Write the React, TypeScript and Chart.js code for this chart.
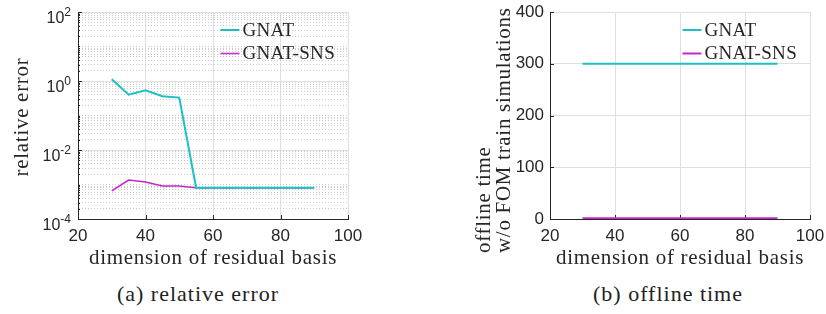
import React, { useEffect, useRef } from "react";
import { Chart, registerables } from "chart.js";

Chart.register(...registerables);

// ---------------- data ----------------
const residualDims = [30, 35, 40, 45, 50, 55, 60, 65, 70, 75, 80, 85, 90];
const gnatError = [1.12, 0.4, 0.54, 0.36, 0.33, 8.1e-4, 8.1e-4, 8.1e-4, 8.1e-4, 8.1e-4, 8.1e-4, 8.1e-4, 8.1e-4];
const snsError = [6.5e-4, 1.35e-3, 1.18e-3, 9.1e-4, 9.0e-4, 8.1e-4, 8.1e-4, 8.1e-4, 8.1e-4, 8.1e-4, 8.1e-4, 8.1e-4, 8.1e-4];
const gnatTime = [300, 300, 300, 300, 300, 300, 300, 300, 300, 300, 300, 300, 300];
const snsTime = [1.5, 1.5, 1.5, 1.5, 1.5, 1.5, 1.5, 1.5, 1.5, 1.5, 1.5, 1.5, 1.5];
const seriesNames = ["GNAT", "GNAT-SNS"];
const xTickValues = [20, 40, 60, 80, 100];
const errTickValues = [1e-4, 1e-2, 1, 1e2];
const errTickExponents = ["-4", "-2", "0", "2"];
const timeTickValues = [0, 100, 200, 300, 400];
const errYTitle = "relative error";
const timeYTitle = ["offline time", "w/o FOM train simulations"];
const xTitle = "dimension of residual basis";
const captions = ["(a) relative error", "(b) offline time"];

// ---------------- styles ----------------
const AXIS = "#262626";
const GRID = "#DFDFDF";
const MINOR = "#CDCDCD";
const CYAN = "#1CC0C2";
const MAGENTA = "#C824C8";
const SERIF = '"Liberation Serif", "Times New Roman", serif';
const SANS = '"Liberation Sans", Arial, sans-serif';

function isMajorErr(v: number) {
  return errTickValues.some((t) => Math.abs(Math.log10(t) - Math.log10(v)) < 1e-9);
}

function errGridValues() {
  const vals: number[] = [];
  for (let e = -4; e < 2; e++) {
    for (let m = 1; m < 10; m++) vals.push(m * Math.pow(10, e));
  }
  vals.push(100);
  return vals;
}

function rotText(ctx: CanvasRenderingContext2D, text: string, x: number, y: number, align: CanvasTextAlign) {
  ctx.save();
  ctx.translate(x, y);
  ctx.rotate(-Math.PI / 2);
  ctx.textAlign = align;
  ctx.textBaseline = "middle";
  ctx.fillText(text, 0, 0);
  ctx.restore();
}

function makeDecor(kind: "err" | "time") {
  return {
    id: "decor_" + kind,
    beforeDatasetsDraw(chart: any) {
      const { ctx, chartArea: a, scales } = chart;
      const x = scales.x;
      const y = scales.y;
      ctx.save();
      ctx.strokeStyle = AXIS;
      ctx.lineWidth = 1;
      ctx.beginPath();
      for (const v of xTickValues) {
        const px = Math.round(x.getPixelForValue(v)) + 0.5;
        ctx.moveTo(px, a.bottom);
        ctx.lineTo(px, a.bottom - 4);
      }
      for (const t of y.ticks) {
        const py = Math.round(y.getPixelForValue(t.value)) + 0.5;
        const len = kind === "err" ? (isMajorErr(t.value) ? 4 : 2) : 4;
        ctx.moveTo(a.left, py);
        ctx.lineTo(a.left + len, py);
      }
      ctx.stroke();
      ctx.restore();
    },
    afterDraw(chart: any) {
      const { ctx, chartArea: a, scales } = chart;
      const y = scales.y;
      ctx.save();
      ctx.fillStyle = AXIS;
      // log tick labels with superscripts
      if (kind === "err") {
        errTickValues.forEach((v, i) => {
          const py = y.getPixelForValue(v);
          ctx.font = "16px " + SANS;
          const w1 = ctx.measureText("10").width;
          ctx.font = "12px " + SANS;
          const w2 = ctx.measureText(errTickExponents[i]).width;
          const right = a.left - 7;
          ctx.textAlign = "left";
          ctx.textBaseline = "alphabetic";
          ctx.font = "16px " + SANS;
          ctx.fillText("10", right - w2 - w1, py + 11);
          ctx.font = "12px " + SANS;
          ctx.fillText(errTickExponents[i], right - w2, py + 4);
        });
      }
      // axis titles
      ctx.font = "21px " + SERIF;
      (ctx as any).letterSpacing = "0.7px";
      ctx.fillStyle = "#262626";
      ctx.textAlign = "center";
      ctx.textBaseline = "middle";
      ctx.fillText(xTitle, (a.left + a.right) / 2, 258);
      if (kind === "err") {
        rotText(ctx, errYTitle, 22, 117, "center");
      } else {
        rotText(ctx, timeYTitle[0], 71, 253, "left");
        rotText(ctx, timeYTitle[1], 91, 253, "left");
      }
      // legend
      ctx.font = "19px " + SERIF;
      (ctx as any).letterSpacing = "0.3px";
      const lx = a.right - 127.5;
      chart.data.datasets.forEach((ds: any, i: number) => {
        const ly = a.top + 18 + i * 23.5;
        ctx.strokeStyle = ds.borderColor;
        ctx.lineWidth = ds.borderWidth;
        ctx.beginPath();
        ctx.moveTo(lx, ly);
        ctx.lineTo(lx + 19, ly);
        ctx.stroke();
        ctx.fillStyle = "#262626";
        ctx.textAlign = "left";
        ctx.textBaseline = "middle";
        ctx.fillText(ds.label, lx + 22, ly + 1);
      });
      ctx.restore();
    },
  };
}

function xScale() {
  return {
    type: "linear",
    min: 20,
    max: 100,
    afterBuildTicks: (s: any) => {
      s.ticks = xTickValues.map((v) => ({ value: v }));
    },
    afterFit: (s: any) => {
      s.height = 51;
      s.paddingLeft = 0;
      s.paddingRight = 0;
    },
    ticks: { font: { family: SANS, size: 17 }, color: AXIS, padding: 7, maxRotation: 0, autoSkip: false },
    grid: { color: GRID, drawTicks: false, lineWidth: 1 },
    border: { color: AXIS, width: 1, z: 1 },
  };
}

function baseOptions(padRight: number) {
  return {
    responsive: false,
    maintainAspectRatio: false,
    animation: false,
    devicePixelRatio: 1,
    events: [],
    layout: { padding: { left: 0, right: padRight, top: 12, bottom: 0 } },
    plugins: { legend: { display: false }, tooltip: { enabled: false } },
    elements: { point: { radius: 0 }, line: { tension: 0 } },
  };
}

function configA(): any {
  return {
    type: "line",
    data: {
      labels: residualDims,
      datasets: [
        { label: seriesNames[0], data: residualDims.map((d, i) => ({ x: d, y: gnatError[i] })), borderColor: CYAN, borderWidth: 2, pointRadius: 0, fill: false },
        { label: seriesNames[1], data: residualDims.map((d, i) => ({ x: d, y: snsError[i] })), borderColor: MAGENTA, borderWidth: 1.5, pointRadius: 0, fill: false },
      ],
    },
    options: {
      ...baseOptions(65),
      scales: {
        x: xScale(),
        y: {
          type: "logarithmic",
          min: 1e-4,
          max: 100,
          afterBuildTicks: (s: any) => {
            s.ticks = errGridValues().map((v) => ({ value: v }));
          },
          afterFit: (s: any) => {
            s.width = 78;
            s.paddingTop = 0;
            s.paddingBottom = 0;
          },
          ticks: { display: false },
          grid: {
            drawTicks: false,
            lineWidth: 1,
            color: (c: any) => (c.tick && !isMajorErr(c.tick.value) ? MINOR : GRID),
          },
          border: {
            color: AXIS,
            width: 1,
            dash: (c: any) => (c.tick && !isMajorErr(c.tick.value) ? [1, 2] : []),
          },
        },
      },
    },
    plugins: [makeDecor("err")],
  };
}

function configB(): any {
  return {
    type: "line",
    data: {
      labels: residualDims,
      datasets: [
        { label: seriesNames[0], data: residualDims.map((d, i) => ({ x: d, y: gnatTime[i] })), borderColor: CYAN, borderWidth: 2, pointRadius: 0, fill: false },
        { label: seriesNames[1], data: residualDims.map((d, i) => ({ x: d, y: snsTime[i] })), borderColor: MAGENTA, borderWidth: 2, pointRadius: 0, fill: false },
      ],
    },
    options: {
      ...baseOptions(16),
      scales: {
        x: xScale(),
        y: {
          type: "linear",
          min: 0,
          max: 400,
          afterBuildTicks: (s: any) => {
            s.ticks = timeTickValues.map((v) => ({ value: v }));
          },
          afterFit: (s: any) => {
            s.width = 137;
            s.paddingTop = 0;
            s.paddingBottom = 0;
          },
          ticks: { font: { family: SANS, size: 17 }, color: AXIS, padding: 6 },
          grid: { color: GRID, drawTicks: false, lineWidth: 1 },
          border: { color: AXIS, width: 1 },
        },
      },
    },
    plugins: [makeDecor("time")],
  };
}

export default function App() {
  const refA = useRef<HTMLCanvasElement>(null);
  const refB = useRef<HTMLCanvasElement>(null);

  useEffect(() => {
    const ca = new Chart(refA.current as HTMLCanvasElement, configA());
    const cb = new Chart(refB.current as HTMLCanvasElement, configB());
    return () => {
      ca.destroy();
      cb.destroy();
    };
  }, []);

  const capStyle: React.CSSProperties = {
    position: "absolute",
    top: 283,
    width: 220,
    textAlign: "center",
    fontFamily: SERIF,
    fontSize: 22,
    lineHeight: "22px",
    letterSpacing: "1px",
    color: "#222",
    whiteSpace: "nowrap",
  };

  return (
    <div style={{ position: "absolute", left: 0, top: 0, width: 826, height: 314, background: "#fff", overflow: "hidden" }}>
      <canvas ref={refA} width={413} height={270} style={{ position: "absolute", left: 0, top: 0, width: 413, height: 270 }} />
      <canvas ref={refB} width={413} height={270} style={{ position: "absolute", left: 413, top: 0, width: 413, height: 270 }} />
      <div style={{ ...capStyle, left: 88 }}>{captions[0]}</div>
      <div style={{ ...capStyle, left: 558 }}>{captions[1]}</div>
    </div>
  );
}
